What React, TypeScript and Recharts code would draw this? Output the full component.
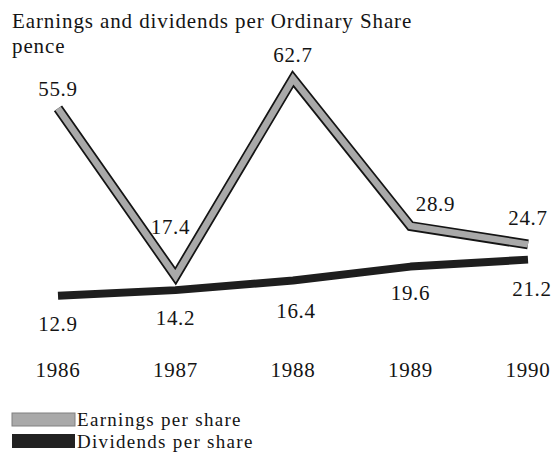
import React from 'react';
import { LineChart, Line, XAxis, YAxis, LabelList, Legend } from 'recharts';

const years = ['1986', '1987', '1988', '1989', '1990'];
const earnings = [55.9, 17.4, 62.7, 28.9, 24.7];
const dividends = [12.9, 14.2, 16.4, 19.6, 21.2];
const seriesNames = ['Earnings per share', 'Dividends per share'];
const titleText = 'Earnings and dividends per Ordinary Share';
const unitText = 'pence';

// label offsets (dx, dy from the point) - styling only
const earnLabelShift = [[0, -12], [-5, -42], [0, -17], [25, -15], [0, -19]];
const divLabelShift = [[0, 35], [0, 35], [3, 37], [0, 33], [4, 36]];

const data = years.map((y, i) => ({ year: y, earnings: earnings[i], dividends: dividends[i] }));

const FONT = '"Liberation Serif", "Times New Roman", serif';
const INK = '#141414';
const GREY = '#a9a9a9';

const makeLabel = (shift: number[][]) => (props: any) => {
  const { x, y, value, index } = props;
  const s = shift[index] || [0, 0];
  return (
    <text
      x={x + s[0]}
      y={y + s[1]}
      textAnchor="middle"
      fontFamily={FONT}
      fontSize={21}
      letterSpacing={0.7}
      fill={INK}
    >
      {Number(value).toFixed(1)}
    </text>
  );
};

const YearTick = (props: any) => {
  const { x, y, payload } = props;
  return (
    <text x={x} y={y + 25} textAnchor="middle" fontFamily={FONT} fontSize={21} letterSpacing={0.7} fill={INK}>
      {payload.value}
    </text>
  );
};

const LegendContent = () => (
  <svg width={300} height={50} style={{ display: 'block' }}>
    <rect x={12} y={9} width={63} height={13} fill={GREY} stroke="#808080" strokeWidth={1} />
    <text x={77} y={22} fontFamily={FONT} fontSize={19} letterSpacing={1.3} fill={INK}>{seriesNames[0]}</text>
    <rect x={12} y={30} width={63} height={14} fill="#222" />
    <text x={77} y={44} fontFamily={FONT} fontSize={19} letterSpacing={1.3} fill={INK}>{seriesNames[1]}</text>
  </svg>
);

export default function App() {
  return (
    <div style={{ position: 'absolute', left: 0, top: 0, width: 552, height: 459, background: '#fff' }}>
      <svg width={552} height={70} style={{ position: 'absolute', left: 0, top: 0 }}>
        <text x={12} y={28} fontFamily={FONT} fontSize={21} letterSpacing={0.9} fill={INK}>{titleText}</text>
        <text x={12} y={53} fontFamily={FONT} fontSize={21} letterSpacing={0.9} fill={INK}>{unitText}</text>
      </svg>
      <div style={{ position: 'absolute', left: 0, top: 0 }}>
        <LineChart width={552} height={459} data={data} margin={{ top: 47, right: 24, bottom: 77, left: 58 }}>
          <XAxis
            dataKey="year"
            axisLine={false}
            tickLine={false}
            tickSize={0}
            tickMargin={0}
            height={30}
            interval={0}
            tick={<YearTick />}
          />
          <YAxis hide domain={[0, 70]} />
          <Legend
            layout="vertical"
            align="center"
            verticalAlign="middle"
            wrapperStyle={{ left: 0, top: 404, width: 300, height: 50 }}
            content={<LegendContent />}
          />
          <Line
            dataKey="dividends"
            name={seriesNames[1]}
            stroke="#1e1e1e"
            strokeWidth={8}
            dot={false}
            activeDot={false}
            strokeLinecap="butt"
            strokeLinejoin="round"
            isAnimationActive={false}
            legendType="none"
          >
            <LabelList dataKey="dividends" content={makeLabel(divLabelShift)} />
          </Line>
          <Line
            dataKey="earnings"
            name="earnings-outline"
            stroke={INK}
            strokeWidth={10}
            dot={false}
            activeDot={false}
            strokeLinecap="butt"
            strokeLinejoin="miter"
            isAnimationActive={false}
            legendType="none"
          />
          <Line
            dataKey="earnings"
            name={seriesNames[0]}
            stroke={GREY}
            strokeWidth={6.5}
            dot={false}
            activeDot={false}
            strokeLinecap="butt"
            strokeLinejoin="miter"
            isAnimationActive={false}
            legendType="none"
          >
            <LabelList dataKey="earnings" content={makeLabel(earnLabelShift)} />
          </Line>
        </LineChart>
      </div>
    </div>
  );
}
